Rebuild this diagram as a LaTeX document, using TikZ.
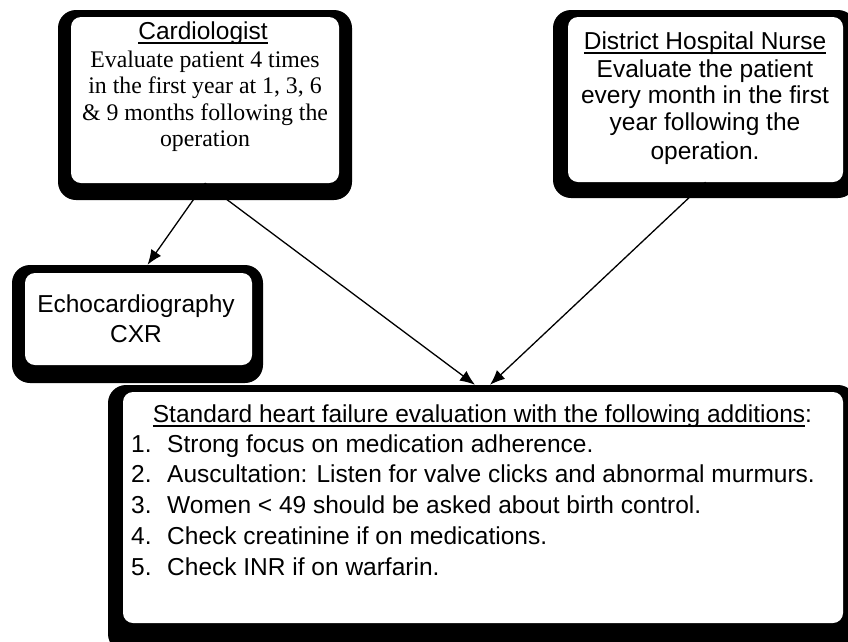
\documentclass[tikz,border=0pt]{standalone}
\usepackage{fontspec}
\setmainfont{Liberation Serif}
\setsansfont{Liberation Sans}
\usetikzlibrary{arrows.meta,calc}

% underline drawn as a rule through the descenders
\newcommand\ulbox[1]{\setbox0\hbox{#1}\rlap{\rule[-4.5pt]{\wd0}{1.4pt}}\box0}

\begin{document}
\begin{tikzpicture}[x=1pt,y=-1pt,
  shade box/.style={rectangle, fill=black, rounded corners=18pt, inner sep=0pt},
  panel/.style={rectangle, fill=white, rounded corners=10pt, inner sep=0pt},
  sanslines/.style={font=\sffamily\fontsize{24.5}{27}\selectfont, inner sep=0pt, anchor=base},
  seriflines/.style={font=\rmfamily\fontsize{23.8}{26.4}\selectfont, inner sep=0pt, anchor=base},
  link/.style={line width=1.3pt, -{Latex[length=15pt,width=12pt]}}]

\useasboundingbox (0,0) rectangle (848,641);

% heavy offset borders behind the panels
\node[shade box, minimum width=294pt, minimum height=190pt] (cardS)  at (205,105)   {};
\node[shade box, minimum width=303pt, minimum height=188pt] (nurseS) at (704.5,104) {};
\node[shade box, minimum width=251pt, minimum height=118pt] (echoS)  at (137.5,324) {};
\node[shade box, minimum width=748pt, minimum height=267pt] (evalS)  at (482,518.5) {};

% white panels
\node[panel, minimum width=268pt, minimum height=166pt] (card)  at (205,100)   {};
\node[panel, minimum width=275pt, minimum height=165pt] (nurse) at (705.5,99.5) {};
\node[panel, minimum width=227pt, minimum height=92pt]  (echo)  at (138.5,319) {};
\node[panel, minimum width=720pt, minimum height=231pt] (eval)  at (483,507.5) {};

% cardiologist
\node[sanslines] (cardTitle) at (203,39) {\ulbox{Cardiologist}};
\node[seriflines] (cardText) at (205,67.5) {\begin{tabular}[t]{@{}c@{}}
  Evaluate patient 4 times\\
  in the first year at 1, 3, 6\\
  \& 9 months following the\\
  operation
\end{tabular}};

% district hospital nurse
\node[sanslines] (nurseTitle) at (705,49) {\ulbox{District Hospital Nurse}};
\node[sanslines, font=\sffamily\fontsize{24.5}{26.5}\selectfont] (nurseText) at (705,77) {\begin{tabular}[t]{@{}c@{}}
  Evaluate the patient\\
  every month in the first\\
  year following the\\[3pt]
  operation.
\end{tabular}};

% imaging
\node[sanslines, font=\sffamily\fontsize{24.5}{30}\selectfont] (echoText) at (136,312) {\begin{tabular}[t]{@{}c@{}}
  Echocardiography\\
  CXR
\end{tabular}};

% follow-up checklist
\node[sanslines] (evalTitle) at (482.5,422) {\ulbox{Standard heart failure evaluation with the following additions}:};
\node[sanslines, anchor=base west, font=\sffamily\fontsize{24.5}{30.8}\selectfont] (evalList) at (131,452) {\begin{tabular}[t]{@{}l@{}}
  \makebox[36pt][l]{1.}Strong focus on medication adherence.\\
  \makebox[36pt][l]{2.}Auscultation: Listen for valve clicks and abnormal murmurs.\\
  \makebox[36pt][l]{3.}Women < 49 should be asked about birth control.\\
  \makebox[36pt][l]{4.}Check creatinine if on medications.\\
  \makebox[36pt][l]{5.}Check INR if on warfarin.
\end{tabular}};

% connectors
\draw[link] (card.south) -- ($(echoS.north)+(10,0)$);
\draw[link] (card.south) -- ($(evalS.north)+(-7,0)$);
\draw[link] (nurse.south) -- ($(evalS.north)+(8,0)$);

\end{tikzpicture}
\end{document}
